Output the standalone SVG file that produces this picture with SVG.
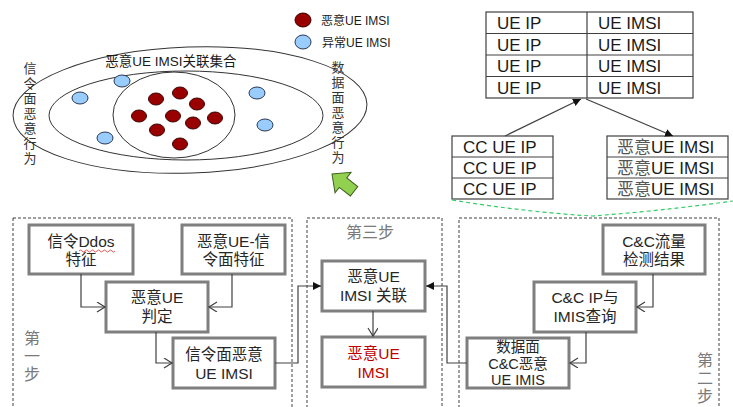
<svg xmlns="http://www.w3.org/2000/svg" width="733" height="407" viewBox="0 0 733 407">
<style>
.cjk{font-family:"Liberation Sans","Noto Sans CJK SC",sans-serif;}
.tbl{font-family:"Liberation Sans","Noto Sans CJK SC",sans-serif;font-size:17px;fill:#1a1a1a;}
.node rect{fill:#fff;stroke:#7f7f7f;stroke-width:3;}
.nt{font-family:"Liberation Sans","Noto Sans CJK SC",sans-serif;font-size:15.5px;fill:#262626;text-anchor:middle;}
.nt3{font-family:"Liberation Sans","Noto Sans CJK SC",sans-serif;font-size:14.5px;fill:#262626;text-anchor:middle;}
.step{font-family:"Liberation Sans","Noto Sans CJK SC",sans-serif;font-size:16px;fill:#7a7a7a;text-anchor:middle;}
.vt{font-family:"Liberation Sans","Noto Sans CJK SC",sans-serif;font-size:13px;fill:#333;text-anchor:middle;}
.box{fill:none;stroke:#404040;stroke-width:1;stroke-dasharray:3 2;}
.conn{fill:none;stroke:#404040;stroke-width:1.2;}
.red{fill:#990000;stroke:#3a0000;stroke-width:1;}
.blue{fill:#99ccff;stroke:#2a3a55;stroke-width:1;}
.venn{fill:none;stroke:#333;stroke-width:1;}
.cell{fill:#fff;stroke:#404040;stroke-width:1.2;}
</style>
<defs>
<marker id="open" markerUnits="userSpaceOnUse" markerWidth="12" markerHeight="12" refX="9" refY="5" orient="auto">
<path d="M1,0 L9,5 L1,10" fill="none" stroke="#404040" stroke-width="1.2"/>
</marker>
<marker id="fill" markerUnits="userSpaceOnUse" markerWidth="10" markerHeight="10" refX="8" refY="4" orient="auto">
<path d="M0,0 L8,4 L0,8 Z" fill="#111"/>
</marker>
</defs>

<!-- Venn diagram -->
<g id="venn">
<ellipse class="venn" cx="190" cy="110" rx="177" ry="63" transform="rotate(-2 190 110)"/>
<ellipse class="venn" cx="186" cy="115.5" rx="137" ry="44.5"/>
<ellipse class="venn" cx="174" cy="115" rx="61" ry="43"/>
<text class="cjk" x="171" y="66" font-size="13.5" fill="#1a1a1a" text-anchor="middle">恶意UE IMSI关联集合</text>
<text class="vt"><tspan x="30" y="73">信</tspan><tspan x="30" y="88">令</tspan><tspan x="30" y="103">面</tspan><tspan x="30" y="118">恶</tspan><tspan x="30" y="133">意</tspan><tspan x="30" y="148">行</tspan><tspan x="30" y="163">为</tspan></text>
<text class="vt"><tspan x="338" y="72">数</tspan><tspan x="338" y="87">据</tspan><tspan x="338" y="102">面</tspan><tspan x="338" y="117">恶</tspan><tspan x="338" y="132">意</tspan><tspan x="338" y="147">行</tspan><tspan x="338" y="162">为</tspan></text>
<ellipse class="red" cx="180" cy="93" rx="7.5" ry="6"/>
<ellipse class="red" cx="156" cy="99" rx="7.5" ry="6"/>
<ellipse class="red" cx="197" cy="104" rx="7.5" ry="6"/>
<ellipse class="red" cx="139" cy="116" rx="7.5" ry="6"/>
<ellipse class="red" cx="173" cy="116" rx="7.5" ry="6"/>
<ellipse class="red" cx="193" cy="123" rx="7.5" ry="6"/>
<ellipse class="red" cx="215" cy="118" rx="7.5" ry="6"/>
<ellipse class="red" cx="157" cy="130" rx="7.5" ry="6"/>
<ellipse class="red" cx="180" cy="144" rx="7.5" ry="6"/>
<ellipse class="blue" cx="122" cy="81" rx="8" ry="6"/>
<ellipse class="blue" cx="80" cy="98" rx="8" ry="6"/>
<ellipse class="blue" cx="105" cy="138" rx="8" ry="6"/>
<ellipse class="blue" cx="257" cy="93" rx="8" ry="6"/>
<ellipse class="blue" cx="265" cy="125" rx="8" ry="6"/>
</g>

<g id="legend">
<ellipse class="red" cx="303" cy="20" rx="8" ry="7"/>
<text class="cjk" x="321" y="25" font-size="12" fill="#1a1a1a">恶意UE IMSI</text>
<ellipse class="blue" cx="303" cy="42" rx="8" ry="7"/>
<text class="cjk" x="322" y="47" font-size="12" fill="#1a1a1a">异常UE IMSI</text>
</g>

<g id="green-arrow">
<path d="M0,0 L14,-13 L14,-6 L28,-6 L28,6 L14,6 L14,13 Z" transform="translate(332,174) rotate(38)" fill="#92d050" stroke="#3d5e1e" stroke-width="1"/>
</g>

<!-- Tables -->
<g id="table-main">
<rect class="cell" x="486" y="12" width="207" height="86"/>
<line x1="587" y1="12" x2="587" y2="98" stroke="#404040" stroke-width="1.2"/>
<line x1="486" y1="33.5" x2="693" y2="33.5" stroke="#404040" stroke-width="1"/>
<line x1="486" y1="55" x2="693" y2="55" stroke="#404040" stroke-width="1"/>
<line x1="486" y1="76.5" x2="693" y2="76.5" stroke="#404040" stroke-width="1"/>
<text class="tbl" x="497" y="29">UE IP</text><text class="tbl" x="598" y="29">UE IMSI</text>
<text class="tbl" x="497" y="50.5">UE IP</text><text class="tbl" x="598" y="50.5">UE IMSI</text>
<text class="tbl" x="497" y="72">UE IP</text><text class="tbl" x="598" y="72">UE IMSI</text>
<text class="tbl" x="497" y="93.5">UE IP</text><text class="tbl" x="598" y="93.5">UE IMSI</text>
</g>
<g id="table-cc">
<rect class="cell" x="452" y="136" width="101" height="63"/>
<line x1="452" y1="157" x2="553" y2="157" stroke="#404040" stroke-width="1"/>
<line x1="452" y1="178" x2="553" y2="178" stroke="#404040" stroke-width="1"/>
<text class="tbl" x="463" y="153">CC UE IP</text>
<text class="tbl" x="463" y="174">CC UE IP</text>
<text class="tbl" x="463" y="195">CC UE IP</text>
</g>
<g id="table-mal">
<rect class="cell" x="607" y="136" width="121" height="63"/>
<line x1="607" y1="157" x2="728" y2="157" stroke="#404040" stroke-width="1"/>
<line x1="607" y1="178" x2="728" y2="178" stroke="#404040" stroke-width="1"/>
<text class="tbl" x="617" y="153"><tspan fill="#555">恶意</tspan>UE IMSI</text>
<text class="tbl" x="617" y="174"><tspan fill="#555">恶意</tspan>UE IMSI</text>
<text class="tbl" x="617" y="195"><tspan fill="#555">恶意</tspan>UE IMSI</text>
</g>

<!-- Step boxes -->
<g id="step1-box"><rect class="box" x="13" y="218" width="279" height="200"/>
<text class="step"><tspan x="32" y="344">第</tspan><tspan x="32" y="362">一</tspan><tspan x="32" y="380">步</tspan></text></g>
<g id="step3-box"><rect class="box" x="307" y="218" width="135" height="200"/>
<text class="step" x="370" y="238">第三步</text></g>
<g id="step2-box"><rect class="box" x="459" y="218" width="260" height="200"/>
<text class="step"><tspan x="705" y="366">第</tspan><tspan x="705" y="384">二</tspan><tspan x="705" y="402">步</tspan></text></g>

<!-- Nodes -->
<g id="n-ddos" class="node"><rect x="29" y="225" width="104" height="49"/>
<text class="nt" x="81" y="247">信令Ddos</text><text class="nt" x="81" y="265">特征</text>
<path d="M79,251 q1.5,-2 3,0 t3,0 t3,0 t3,0 t3,0 t3,0 t3,0 t3,0 t3,0 t3,0 t3,0 t3,0" fill="none" stroke="#e03030" stroke-width="0.8"/></g>
<g id="n-sigfeat" class="node"><rect x="182" y="225" width="103" height="49"/>
<text class="nt" x="233.5" y="247">恶意UE-信</text><text class="nt" x="233.5" y="265">令面特征</text></g>
<g id="n-judge" class="node"><rect x="106" y="282" width="102" height="50"/>
<text class="nt" x="157" y="303">恶意UE</text><text class="nt" x="157" y="322">判定</text></g>
<g id="n-sigimsi" class="node"><rect x="173" y="338" width="102" height="50"/>
<text class="nt" x="224" y="360">信令面恶意</text><text class="nt" x="224" y="379">UE IMSI</text></g>
<g id="n-assoc" class="node"><rect x="322" y="261" width="103" height="50"/>
<text class="nt" x="373.5" y="282">恶意UE</text><text class="nt" x="373.5" y="301">IMSI 关联</text></g>
<g id="n-result" class="node"><rect x="322" y="337" width="103" height="50"/>
<text class="nt" x="373.5" y="359" style="fill:#c00000">恶意UE</text><text class="nt" x="373.5" y="378" style="fill:#c00000">IMSI</text></g>
<g id="n-cctraffic" class="node"><rect x="603" y="225" width="102" height="49"/>
<text class="nt" x="654" y="247">C&amp;C流量</text><text class="nt" x="654" y="265">检测结果</text></g>
<g id="n-ccquery" class="node"><rect x="534" y="282" width="102" height="50"/>
<text class="nt" x="585" y="303">C&amp;C IP与</text><text class="nt" x="585" y="322">IMIS查询</text></g>
<g id="n-dataimsi" class="node"><rect x="467" y="338" width="102" height="50"/>
<text class="nt3" x="518" y="352">数据面</text><text class="nt3" x="518" y="368.5">C&amp;C恶意</text><text class="nt3" x="518" y="385">UE IMIS</text></g>

<!-- Connectors -->
<g id="connectors">
<path class="conn" d="M81,274 V307 H105" marker-end="url(#open)"/>
<path class="conn" d="M232,274 V307 H209" marker-end="url(#open)"/>
<path class="conn" d="M156,332 V363 H172" marker-end="url(#open)"/>
<path class="conn" d="M275,363 H298 V286 H321" marker-end="url(#fill)"/>
<path class="conn" d="M373,311 V336" marker-end="url(#open)"/>
<path class="conn" d="M653,274 V307 H637" marker-end="url(#open)"/>
<path class="conn" d="M586,332 V363 H570" marker-end="url(#open)"/>
<path class="conn" d="M467,363 H447 V286 H426" marker-end="url(#fill)"/>
<path class="conn" d="M505,136 L581,99" marker-end="url(#fill)"/>
<path class="conn" d="M586,99 L673,136" marker-end="url(#fill)"/>
<path d="M452,200 Q525,212 592,216 Q660,211 733,201" fill="none" stroke="#33cc66" stroke-width="1.2" stroke-dasharray="4 3"/>
</g>
</svg>
